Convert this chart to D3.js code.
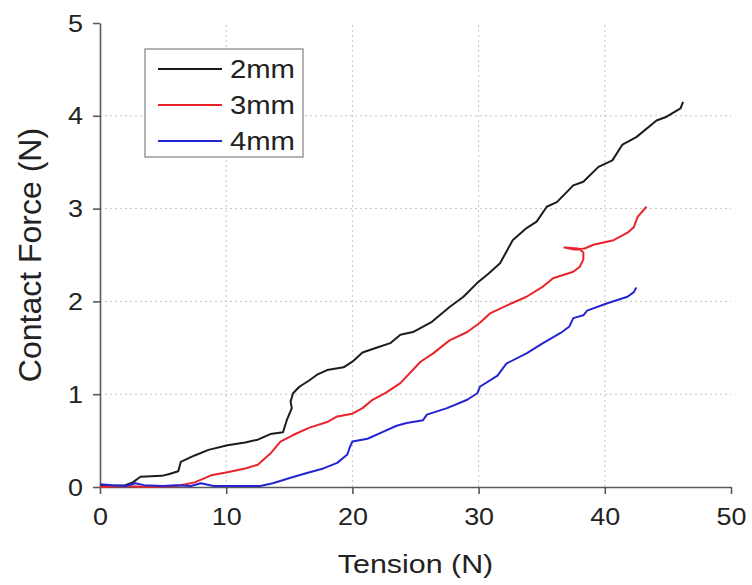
<!DOCTYPE html>
<html>
<head>
<meta charset="utf-8">
<script src="https://cdn.jsdelivr.net/npm/d3@7"></script>
<style>
  body { margin: 0; background: #fff; }
  text { font-family: "Liberation Sans", Arial, sans-serif; fill: #222; }
</style>
</head>
<body>
<svg id="chart" width="752" height="585"></svg>
<script>
// series: tension (N) and contact force (N)
const t2mm = [0,1,2,2.6,3.2,4.9,5.5,6.2,6.4,7.5,8.6,10.1,11.5,12.5,13.5,14.5,14.8,15.2,15.1,15.3,15.8,16.6,17.2,18.0,19.3,20.0,20.8,21.9,23.0,23.8,24.8,26.3,27.7,28.8,29.9,30.8,31.7,32.7,33.8,34.6,35.4,36.2,37.0,37.5,38.3,39.5,40.6,41.4,42.5,44.1,44.9,46.0,46.2];
const f2mm = [0.02,0.01,0.02,0.05,0.11,0.12,0.14,0.17,0.27,0.34,0.40,0.45,0.48,0.51,0.57,0.59,0.72,0.85,0.92,1.01,1.08,1.15,1.21,1.26,1.29,1.35,1.45,1.50,1.55,1.64,1.67,1.78,1.94,2.05,2.20,2.30,2.41,2.66,2.79,2.86,3.02,3.07,3.18,3.25,3.29,3.45,3.52,3.69,3.77,3.95,3.99,4.08,4.15];

const t3mm = [0,2,4,6,6.8,7.5,8.9,10.1,11.5,12.5,13.5,14.3,15.3,16.6,18.0,18.8,20.0,20.8,21.6,22.7,23.8,25.4,26.4,27.7,29.1,30.1,30.9,32.3,33.8,35.1,35.9,37.5,38.0,38.3,38.3,37.9,36.8,37.6,38.4,39.1,40.7,41.8,42.3,42.6,43.3];
const f3mm = [0,0.01,0,0.01,0.03,0.05,0.13,0.16,0.20,0.24,0.36,0.49,0.56,0.64,0.70,0.76,0.79,0.85,0.94,1.02,1.12,1.35,1.44,1.58,1.67,1.77,1.87,1.96,2.05,2.16,2.25,2.32,2.37,2.45,2.53,2.57,2.58,2.56,2.57,2.61,2.66,2.74,2.80,2.91,3.02];

const t4mm = [0,1,2,2.8,3.5,5,6,7.2,8,9,11,12.7,13.7,15.1,16.4,17.7,18.8,19.6,19.8,20.0,21.2,22.2,23.5,24.3,25.6,25.9,27.5,29.1,29.9,30.1,31.5,32.2,33.8,35.1,36.5,37.2,37.5,38.3,38.6,40.2,41.8,42.3,42.5];
const f4mm = [0.03,0.02,0.01,0.04,0.02,0.01,0.02,0.01,0.04,0.01,0.01,0.01,0.04,0.10,0.15,0.20,0.26,0.35,0.43,0.49,0.52,0.58,0.66,0.69,0.72,0.78,0.85,0.94,1.01,1.08,1.20,1.33,1.44,1.55,1.66,1.73,1.82,1.85,1.90,1.98,2.05,2.10,2.15];

const seriesNames = ["2mm", "3mm", "4mm"];
const seriesColors = ["#1c1c1c", "#e8242a", "#2424d2"];
const xTicks = [0, 10, 20, 30, 40, 50];
const yTicks = [0, 1, 2, 3, 4, 5];

const series = [
  {name: seriesNames[0], color: seriesColors[0], t: t2mm, f: f2mm},
  {name: seriesNames[1], color: seriesColors[1], t: t3mm, f: f3mm},
  {name: seriesNames[2], color: seriesColors[2], t: t4mm, f: f4mm}
];

const W = 752, H = 585;
const margin = {top: 23, right: 21, bottom: 98, left: 100};
const stretch = 1.17; // text in the picture is a bit wide

const svg = d3.select("#chart");

const x = d3.scaleLinear().domain([0, 50]).range([margin.left, W - margin.right]);
const y = d3.scaleLinear().domain([0, 5]).range([H - margin.bottom, margin.top]);

// dotted grid
svg.append("g").selectAll("line")
  .data(xTicks.slice(1, -1))
  .enter().append("line")
  .attr("x1", d => x(d)).attr("x2", d => x(d))
  .attr("y1", y(0)).attr("y2", y(5))
  .attr("stroke", "#c4c4c4").attr("stroke-width", 1)
  .attr("stroke-dasharray", "2,3");

svg.append("g").selectAll("line")
  .data(yTicks.slice(1, -1))
  .enter().append("line")
  .attr("x1", x(0)).attr("x2", x(50))
  .attr("y1", d => y(d)).attr("y2", d => y(d))
  .attr("stroke", "#c4c4c4").attr("stroke-width", 1)
  .attr("stroke-dasharray", "2,3");

// axes
const xAxis = svg.append("g")
  .attr("transform", `translate(0,${y(0)})`)
  .call(d3.axisBottom(x).tickValues(xTicks).tickFormat(d3.format("d")).tickSize(7).tickSizeOuter(0));
const yAxis = svg.append("g")
  .attr("transform", `translate(${x(0)},0)`)
  .call(d3.axisLeft(y).tickValues(yTicks).tickFormat(d3.format("d")).tickSize(7).tickSizeOuter(0));

[xAxis, yAxis].forEach(a => {
  a.select(".domain").attr("stroke", "#5a5a5a").attr("stroke-width", 1.6);
  a.selectAll(".tick line").attr("stroke", "#5a5a5a").attr("stroke-width", 1.6);
  a.selectAll(".tick text")
    .style("font-size", "23px")
    .attr("fill", "#222");
});

xAxis.selectAll(".tick text")
  .attr("y", 0).attr("dy", 0)
  .attr("transform", `translate(0,38) scale(${stretch},1)`);
yAxis.selectAll(".tick text")
  .attr("x", 0).attr("dy", "0.35em")
  .attr("transform", `translate(-17,0) scale(${stretch},1)`);

// lines
const line = d3.line()
  .x(d => x(d[0]))
  .y(d => y(d[1]));

svg.append("g").selectAll("path")
  .data(series)
  .enter().append("path")
  .attr("d", s => line(d3.zip(s.t, s.f)))
  .attr("fill", "none")
  .attr("stroke", s => s.color)
  .attr("stroke-width", 2)
  .attr("stroke-linejoin", "round");

// axis titles
svg.append("text")
  .attr("text-anchor", "middle")
  .attr("transform", `translate(${(x(0) + x(50)) / 2},573) scale(${stretch},1)`)
  .style("font-size", "26px")
  .text("Tension (N)");

svg.append("text")
  .attr("text-anchor", "middle")
  .attr("transform", `translate(41,${(y(0) + y(5)) / 2}) rotate(-90)`)
  .style("font-size", "32px")
  .text("Contact Force (N)");

// legend
const legend = svg.append("g").attr("transform", "translate(145,49)");
legend.append("rect")
  .attr("width", 158).attr("height", 108)
  .attr("fill", "#fff")
  .attr("stroke", "#808080").attr("stroke-width", 1.2);

const lg = legend.selectAll("g.item")
  .data(series)
  .enter().append("g")
  .attr("class", "item")
  .attr("transform", (d, i) => `translate(0,${20 + i * 36})`);

lg.append("line")
  .attr("x1", 13).attr("x2", 77)
  .attr("stroke", d => d.color).attr("stroke-width", 2);

lg.append("text")
  .attr("transform", `translate(85,0) scale(${stretch},1)`)
  .attr("dy", "0.35em")
  .style("font-size", "25px")
  .text(d => d.name);
</script>
</body>
</html>
